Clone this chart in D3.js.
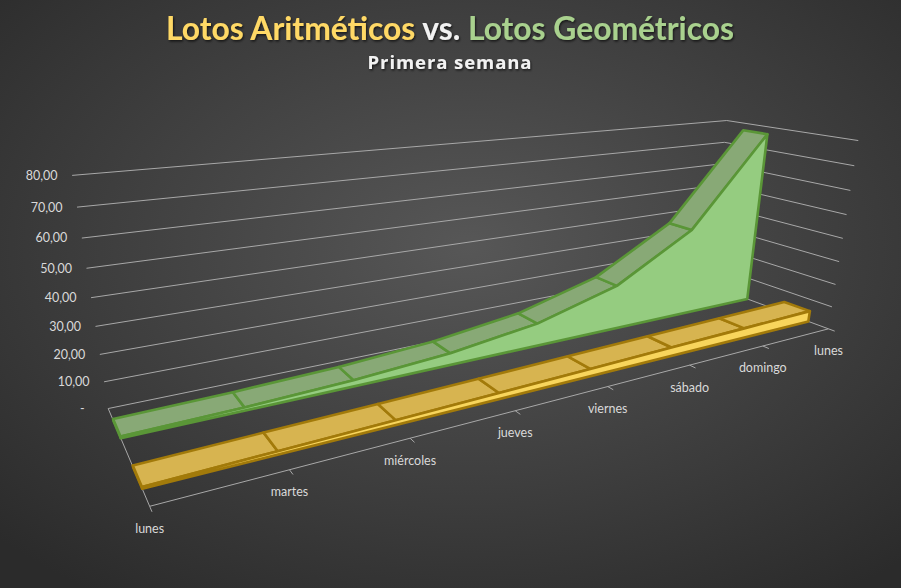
<!DOCTYPE html>
<html><head><meta charset="utf-8">
<script src="https://cdn.jsdelivr.net/npm/d3@7"></script>
<style>html,body{margin:0;padding:0;background:#333}svg{display:block}</style>
</head><body><svg id="c" width="901" height="588"></svg>
<script>
// ---------------- data ----------------
const categories = ["lunes","martes","miércoles","jueves","viernes","sábado","domingo","lunes"];
const aritmeticos = [0.6,1.2,1.8,2.4,3.0,3.6,4.2,4.8];
const geometricos = [0.6,1.2,2.4,4.8,9.6,19.2,38.4,76.8];
const yTicks = [0,10,20,30,40,50,60,70,80];
const seriesNames = ["Lotos Aritméticos","Lotos Geométricos"];

// ---------------- layout / style ----------------
const W = 901, H = 588;
const svg = d3.select("#c");
const style = [
  {top:"#d7b450", front:"#f8d55c", side:"#c9a443", stroke:"#a27a0a"},
  {top:"#88a976", front:"#95cc80", side:"#7fa46b", stroke:"#5a9637"}
];
// 3D frame anchors (unit cube corners -> pixels) used to fit the perspective
const anchors = [
 [[0,0,0],[150,506]],[[1,0,0],[828,328]],[[1,1,0],[858,140]],
 [[0,0,1],[108,408]],[[0,1,1],[72,176]],[[1,1,1],[727,121]],
 [[2/7,0,0],[410,439]],[[4/7,0,0],[608,387]],[[6/7,0,0],[763,347]],
 [[0,0.5,1],[91,297]],[[1,0.5,0],[843,238]]
];
function fitProjection(pts){
  const n=11, S=1000, A=[], b=[];
  pts.forEach(([[X,Y,Z],[u0,v0]])=>{
    const u=u0/S, v=v0/S;
    A.push([X,Y,Z,1,0,0,0,0,-u*X,-u*Y,-u*Z]); b.push(u);
    A.push([0,0,0,0,X,Y,Z,1,-v*X,-v*Y,-v*Z]); b.push(v);
  });
  const M=[...Array(n)].map(()=>new Array(n+1).fill(0));
  for(let r=0;r<A.length;r++) for(let i=0;i<n;i++){
    for(let j=0;j<n;j++) M[i][j]+=A[r][i]*A[r][j];
    M[i][n]+=A[r][i]*b[r];
  }
  for(let c=0;c<n;c++){
    let p=c; for(let r=c+1;r<n;r++) if(Math.abs(M[r][c])>Math.abs(M[p][c])) p=r;
    [M[c],M[p]]=[M[p],M[c]];
    for(let r=0;r<n;r++){ if(r===c) continue; const f=M[r][c]/M[c][c]; for(let k=c;k<=n;k++) M[r][k]-=f*M[c][k]; }
  }
  const q=M.map((row,i)=>row[n]/row[i]);
  return ([X,Y,Z])=>{ const w=q[8]*X+q[9]*Y+q[10]*Z+1;
    return [S*(q[0]*X+q[1]*Y+q[2]*Z+q[3])/w, S*(q[4]*X+q[5]*Y+q[6]*Z+q[7])/w]; };
}
const P = fitProjection(anchors);

// scales (world unit cube)
const x = d3.scaleLinear().domain([0, categories.length-1]).range([0,1]);
const y = d3.scaleLinear().domain([0, 80]).range([0,1]);
const z = d3.scaleBand().domain([0,1]).range([0,1]).paddingInner(0.6).paddingOuter(0.3);
const pt = (X,Y,Z)=>P([X,Y,Z]);
const poly = arr => "M"+arr.map(p=>p[0].toFixed(2)+","+p[1].toFixed(2)).join("L")+"Z";
const line = arr => "M"+arr.map(p=>p[0].toFixed(2)+","+p[1].toFixed(2)).join("L");

// ---------------- background ----------------
const defs = svg.append("defs");
const rg = defs.append("radialGradient").attr("id","bg").attr("cx","52%").attr("cy","42%").attr("r","72%");
rg.append("stop").attr("offset","0%").attr("stop-color","#575757");
rg.append("stop").attr("offset","100%").attr("stop-color","#2b2b2b");
const f = defs.append("filter").attr("id","sh").attr("x","-10%").attr("y","-30%").attr("width","120%").attr("height","160%");
f.append("feDropShadow").attr("dx",1).attr("dy",1.5).attr("stdDeviation",1.3).attr("flood-color","#000").attr("flood-opacity",0.65);
svg.append("rect").attr("width",W).attr("height",H).attr("fill","url(#bg)");

// ---------------- walls gridlines ----------------
const grid = svg.append("g").attr("fill","none").attr("stroke","#a8a8a8").attr("stroke-width",1);
yTicks.forEach(t=>{
  grid.append("path").attr("d", line([pt(0,y(t),1), pt(1,y(t),1), pt(1,y(t),0)]));
});
// floor edges
grid.append("path").attr("d", line([pt(0,0,1), pt(0,0,0), pt(1,0,0)]));
// category ticks
categories.forEach((c,i)=>{
  grid.append("path").attr("d", line([pt(x(i),0,0), pt(x(i),0,-0.045)]));
});

// ---------------- axis labels ----------------
const esFmt = d3.formatLocale({decimal:",", thousands:".", grouping:[3], currency:["","€"]}).format(",.2f");
const lab = svg.append("g").attr("fill","#d9d9d9").attr("font-family","Lato, 'Open Sans', sans-serif");
yTicks.forEach(t=>{
  const p = pt(0,y(t),1);
  lab.append("text").attr("x", p[0]-14.5-(t===0?9:0)).attr("y", p[1]).attr("dy","0.35em")
    .attr("text-anchor","end").attr("font-size",12.5).text(t===0?"-":esFmt(t));
});
categories.forEach((c,i)=>{
  const p = pt(x(i),0,0);
  lab.append("text").attr("x", p[0]).attr("y", p[1]+22).attr("dy","0.35em")
    .attr("text-anchor","middle").attr("font-size",12.5).text(c);
});

// ---------------- series (back to front) ----------------
const seriesValues = [aritmeticos, geometricos];
[1,0].forEach(s=>{
  const vals = seriesValues[s], st = style[s];
  const z0 = z(s), z1 = z(s)+z.bandwidth();
  const g = svg.append("g").attr("stroke",st.stroke).attr("stroke-width",2.6).attr("stroke-linejoin","round");
  // left end face
  g.append("path").attr("fill",st.side)
    .attr("d", poly([pt(0,0,z0), pt(0,y(vals[0]),z0), pt(0,y(vals[0]),z1), pt(0,0,z1)]));
  // top surface strips
  for(let i=0;i<vals.length-1;i++){
    g.append("path").attr("fill",st.top)
      .attr("d", poly([pt(x(i),y(vals[i]),z0), pt(x(i+1),y(vals[i+1]),z0),
                       pt(x(i+1),y(vals[i+1]),z1), pt(x(i),y(vals[i]),z1)]));
  }
  // front face
  const front = vals.map((v,i)=>pt(x(i),y(v),z0));
  front.push(pt(x(vals.length-1),0,z0), pt(0,0,z0));
  g.append("path").attr("fill",st.front).attr("d", poly(front));
});

// ---------------- titles ----------------
const title = svg.append("text").attr("x",450).attr("y",39.5).attr("text-anchor","middle")
  .attr("font-family","Lato, 'Open Sans', sans-serif").attr("font-weight","bold").attr("font-size",28)
  .attr("filter","url(#sh)");
title.append("tspan").attr("fill","#ffd966").text(seriesNames[0]);
title.append("tspan").attr("fill","#f2f2f2").text(" vs. ");
title.append("tspan").attr("fill","#a9d18e").text(seriesNames[1]);
const tw = title.node().getComputedTextLength();
title.attr("font-size", 28*568/tw);
const subText = "Primera semana";
const sub = svg.append("text").attr("x",450).attr("y",69).attr("text-anchor","middle")
  .attr("font-family","'Open Sans', Lato, sans-serif").attr("font-weight","bold").attr("font-size",18.5)
  .attr("fill","#f2f2f2").attr("filter","url(#sh)").text(subText);
const sw = sub.node().getComputedTextLength();
sub.attr("letter-spacing", Math.max(0,(164-sw)/(subText.length-1)));
</script></body></html>
